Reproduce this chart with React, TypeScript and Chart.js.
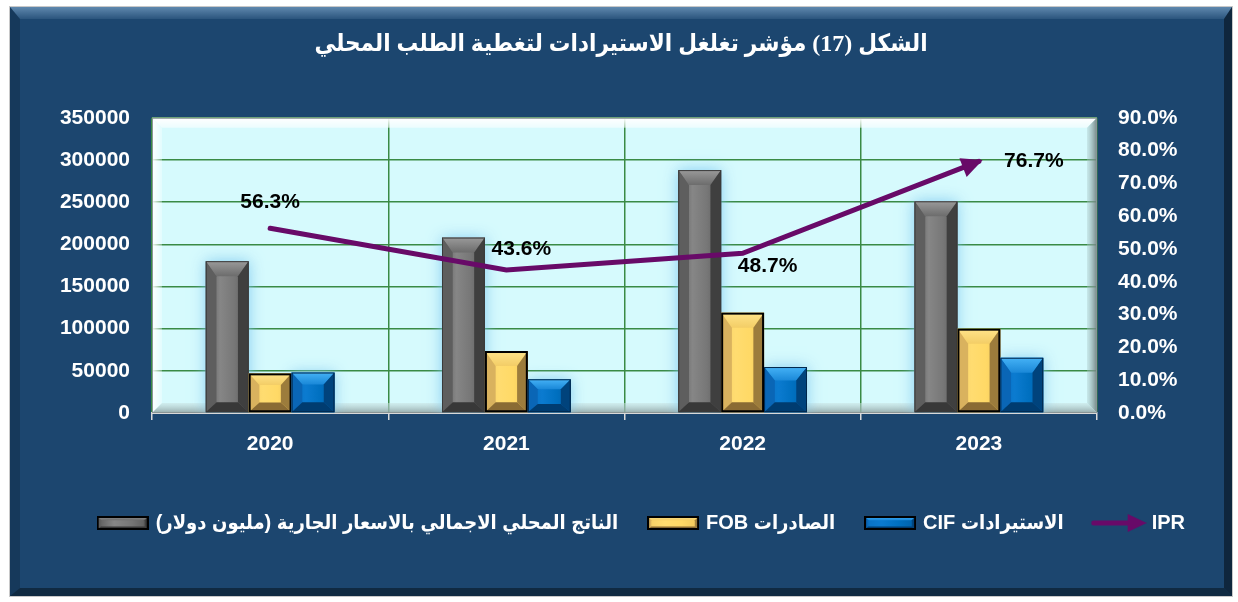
import React, { useEffect, useRef } from 'react';
import { Chart, registerables } from 'chart.js';

Chart.register(...registerables);

// ---------- data ----------
const years = ['2020', '2021', '2022', '2023'];
const gdpValues = [180000, 208000, 288000, 251000];
const fobValues = [47000, 73500, 119000, 100000];
const cifValues = [48000, 40000, 54500, 65500];
const iprValues = [56.3, 43.6, 48.7, 76.7];

const seriesNames = [
  'الناتج المحلي الاجمالي بالاسعار الجارية (مليون دولار)',
  'الصادرات FOB',
  'الاستيرادات CIF',
  'IPR',
];
const titleText = 'الشكل (17) مؤشر تغلغل الاستيرادات لتغطية الطلب المحلي';

const leftMax = 350000;
const leftStep = 50000;
const rightMax = 90;
const rightStep = 10;

// ---------- styles ----------
const FONT_SANS = "'Liberation Sans', Arial, 'DejaVu Sans Condensed', 'DejaVu Sans', sans-serif";
const FONT_TITLE = "'Liberation Serif', 'Times New Roman', 'DejaVu Sans Condensed', 'DejaVu Sans', serif";
const GRID_GREEN = '#3a8a45';
const LINE_PURPLE = '#680a68';

type Pal = {
  center: string[];
  left: string;
  right: string;
  top: string[];
  bottom: string;
  outline: string;
  outlineWidth: number;
  glow?: string;
};

const PALETTES: Pal[] = [
  {
    center: ['#5a5a5a', '#868686', '#777777', '#5a5a5a'],
    left: '#5e5e5e',
    right: '#3f3f3f',
    top: ['#9a9a9a', '#6c6c6c'],
    bottom: '#383838',
    outline: '#3a3a3a',
    outlineWidth: 1,
    glow: 'rgba(125,200,240,0.95)',
  },
  {
    center: ['#f6cf66', '#ffdc70', '#ffd966', '#efc65c'],
    left: '#d9b25e',
    right: '#9c7c3c',
    top: ['#ffe48a', '#f3cd66'],
    bottom: '#8a6b34',
    outline: '#000000',
    outlineWidth: 2,
  },
  {
    center: ['#0a70c2', '#0b7bd0', '#0070c0', '#0060a8'],
    left: '#0a66b6',
    right: '#00437c',
    top: ['#45b2f6', '#1a88d8'],
    bottom: '#003c70',
    outline: '#00264a',
    outlineWidth: 1,
    glow: 'rgba(125,200,240,0.95)',
  },
];

// label offset from its point, for each IPR label
const iprLabelOffsets = [
  [0, -26],
  [15, -21],
  [25, 13],
  [55, 0],
];

function poly(ctx: CanvasRenderingContext2D, pts: number[][], fill: any) {
  ctx.beginPath();
  ctx.moveTo(pts[0][0], pts[0][1]);
  for (let i = 1; i < pts.length; i++) ctx.lineTo(pts[i][0], pts[i][1]);
  ctx.closePath();
  ctx.fillStyle = fill;
  ctx.fill();
}

function drawBevel(ctx: CanvasRenderingContext2D, x0: number, y0: number, x1: number, y1: number, pal: Pal) {
  const w = x1 - x0;
  const h = y1 - y0;
  if (h <= 0 || w <= 0) return;
  const bs = Math.min(11, w * 0.25, h * 0.3);
  const bt = Math.min(15, h * 0.3);
  const bb = Math.min(10, h * 0.25);
  const g = ctx.createLinearGradient(x0, 0, x1, 0);
  pal.center.forEach((c, i) => g.addColorStop(i / (pal.center.length - 1), c));
  ctx.fillStyle = g;
  ctx.fillRect(x0, y0, w, h);
  const gt = ctx.createLinearGradient(0, y0, 0, y0 + bt);
  gt.addColorStop(0, pal.top[0]);
  gt.addColorStop(1, pal.top[1]);
  poly(ctx, [[x0, y0], [x1, y0], [x1 - bs, y0 + bt], [x0 + bs, y0 + bt]], gt);
  poly(ctx, [[x0, y0], [x0 + bs, y0 + bt], [x0 + bs, y1 - bb], [x0, y1]], pal.left);
  poly(ctx, [[x1, y0], [x1, y1], [x1 - bs, y1 - bb], [x1 - bs, y0 + bt]], pal.right);
  poly(ctx, [[x0, y1], [x1, y1], [x1 - bs, y1 - bb], [x0 + bs, y1 - bb]], pal.bottom);
  ctx.lineWidth = pal.outlineWidth;
  ctx.strokeStyle = pal.outline;
  const o = pal.outlineWidth / 2;
  ctx.strokeRect(x0 + o, y0 + o, w - 2 * o, h - 2 * o);
}

function makeSwatch(pal: Pal) {
  const c = document.createElement('canvas');
  c.width = 52;
  c.height = 14;
  const ctx = c.getContext('2d')!;
  drawBevel(ctx, 0, 0, 52, 14, { ...pal, outline: '#000000', outlineWidth: 2 });
  return c;
}

function makeArrow() {
  const c = document.createElement('canvas');
  c.width = 56;
  c.height = 18;
  const ctx = c.getContext('2d')!;
  ctx.strokeStyle = LINE_PURPLE;
  ctx.lineWidth = 5;
  ctx.lineCap = 'round';
  ctx.beginPath();
  ctx.moveTo(3, 9);
  ctx.lineTo(40, 9);
  ctx.stroke();
  poly(ctx, [[56, 9], [37, 0], [37, 18]], LINE_PURPLE);
  return c;
}

const LEGEND_PAD = 32;

const panelPlugin = {
  id: 'panelBg',
  afterLayout(chart: any) {
    // right-align the legend row so the IPR entry ends near the right axis labels
    if (chart.legend) chart.legend.right = chart.width - 25 + LEGEND_PAD - 22;
  },
  beforeDraw(chart: any) {
    const { ctx, width, height, chartArea } = chart;
    ctx.save();
    ctx.fillStyle = '#1c466f';
    ctx.fillRect(0, 0, width, height);
    const bt = 12, bl = 10, br = 8, bb = 8;
    const gt = ctx.createLinearGradient(0, 0, 0, bt);
    gt.addColorStop(0, 'rgba(150,190,225,0.55)');
    gt.addColorStop(1, 'rgba(150,190,225,0.12)');
    poly(ctx, [[0, 0], [width, 0], [width - br, bt], [bl, bt]], gt);
    poly(ctx, [[0, 0], [bl, bt], [bl, height - bb], [0, height]], 'rgba(0,0,0,0.18)');
    poly(ctx, [[width, 0], [width, height], [width - br, height - bb], [width - br, bt]], 'rgba(0,0,0,0.45)');
    poly(ctx, [[0, height], [width, height], [width - br, height - bb], [bl, height - bb]], 'rgba(0,0,0,0.4)');
    // plot wall
    const { left, top, right, bottom } = chartArea;
    ctx.fillStyle = '#d6fafd';
    ctx.fillRect(left, top, right - left, bottom - top);
    ctx.restore();
  },
  beforeDatasetsDraw(chart: any) {
    const { ctx, chartArea } = chart;
    const { left: L, top: T, right: R, bottom: B } = chartArea;
    const b = 10;
    ctx.save();
    const gt = ctx.createLinearGradient(0, T, 0, T + b + 4);
    gt.addColorStop(0, 'rgba(255,255,255,1)');
    gt.addColorStop(1, 'rgba(255,255,255,0.35)');
    poly(ctx, [[L, T], [R, T], [R - b, T + b], [L + b, T + b]], gt);
    const gl = ctx.createLinearGradient(L, 0, L + b, 0);
    gl.addColorStop(0, 'rgba(255,255,255,0.95)');
    gl.addColorStop(1, 'rgba(255,255,255,0.3)');
    poly(ctx, [[L, T], [L + b, T + b], [L + b, B - b], [L, B]], gl);
    const gr = ctx.createLinearGradient(R - b, 0, R, 0);
    gr.addColorStop(0, 'rgba(170,200,200,0.35)');
    gr.addColorStop(1, 'rgba(110,125,125,0.95)');
    poly(ctx, [[R, T], [R, B], [R - b, B - b], [R - b, T + b]], gr);
    const gb = ctx.createLinearGradient(0, B - b, 0, B);
    gb.addColorStop(0, 'rgba(200,225,225,0.5)');
    gb.addColorStop(1, 'rgba(140,160,160,0.9)');
    poly(ctx, [[L, B], [R, B], [R - b, B - b], [L + b, B - b]], gb);
    ctx.strokeStyle = '#8a9595';
    ctx.lineWidth = 1;
    ctx.strokeRect(L + 0.5, T + 0.5, R - L - 1, B - T - 1);
    ctx.restore();
  },
  beforeDatasetDraw(chart: any, args: any) {
    // draw all bevelled bars just before the line
    if (chart.data.datasets[args.index].type !== 'line') return;
    const { ctx, chartArea } = chart;
    const bars: { x0: number; y0: number; x1: number; y1: number; pal: Pal }[] = [];
    chart.data.datasets.forEach((ds: any, di: number) => {
      if (ds.type !== 'bar') return;
      const meta = chart.getDatasetMeta(di);
      meta.data.forEach((el: any) => {
        const p = el.getProps(['x', 'y', 'base', 'width'], true);
        bars.push({ x0: p.x - p.width / 2, x1: p.x + p.width / 2, y0: Math.min(p.y, p.base), y1: Math.max(p.y, p.base), pal: PALETTES[di] });
      });
    });
    ctx.save();
    ctx.beginPath();
    ctx.rect(chartArea.left, chartArea.top, chartArea.right - chartArea.left, chartArea.bottom - chartArea.top);
    ctx.clip();
    bars.forEach((b) => {
      if (!b.pal.glow) return;
      ctx.save();
      ctx.shadowColor = b.pal.glow;
      ctx.shadowBlur = 14;
      ctx.fillStyle = b.pal.glow;
      ctx.fillRect(b.x0, b.y0, b.x1 - b.x0, b.y1 - b.y0);
      ctx.restore();
    });
    bars.forEach((b) => drawBevel(ctx, b.x0, b.y0, b.x1, b.y1, b.pal));
    ctx.restore();
  },
  afterDatasetsDraw(chart: any) {
    const { ctx } = chart;
    const idx = chart.data.datasets.findIndex((d: any) => d.type === 'line');
    const meta = chart.getDatasetMeta(idx);
    const pts = meta.data;
    ctx.save();
    // arrow head
    const a = pts[pts.length - 2];
    const z = pts[pts.length - 1];
    const ang = Math.atan2(z.y - a.y, z.x - a.x);
    const tipX = z.x + Math.cos(ang) * 4;
    const tipY = z.y + Math.sin(ang) * 4;
    const len = 21, hw = 10;
    const bx = tipX - Math.cos(ang) * len;
    const by = tipY - Math.sin(ang) * len;
    poly(ctx, [
      [tipX, tipY],
      [bx + Math.sin(ang) * hw, by - Math.cos(ang) * hw],
      [bx - Math.sin(ang) * hw, by + Math.cos(ang) * hw],
    ], LINE_PURPLE);
    // labels
    ctx.fillStyle = '#000000';
    ctx.font = `bold 21px ${FONT_SANS}`;
    ctx.textAlign = 'center';
    ctx.textBaseline = 'middle';
    pts.forEach((p: any, i: number) => {
      const v = chart.data.datasets[idx].data[i];
      const off = iprLabelOffsets[i];
      ctx.fillText(`${Number(v).toFixed(1)}%`, p.x + off[0], p.y + off[1]);
    });
    ctx.restore();
  },
};

export default function App() {
  const canvasRef = useRef<HTMLCanvasElement | null>(null);

  useEffect(() => {
    if (!canvasRef.current) return;
    const swatches = [makeSwatch(PALETTES[0]), makeSwatch(PALETTES[1]), makeSwatch(PALETTES[2]), makeArrow()];
    const tickFont = { family: FONT_SANS, size: 21, weight: 'bold' as const };
    const chart = new Chart(canvasRef.current, {
      type: 'bar',
      data: {
        labels: years,
        datasets: [
          { type: 'bar', label: seriesNames[0], data: gdpValues, backgroundColor: 'rgba(0,0,0,0)', borderWidth: 0, yAxisID: 'y', order: 0 },
          { type: 'bar', label: seriesNames[1], data: fobValues, backgroundColor: 'rgba(0,0,0,0)', borderWidth: 0, yAxisID: 'y', order: 0 },
          { type: 'bar', label: seriesNames[2], data: cifValues, backgroundColor: 'rgba(0,0,0,0)', borderWidth: 0, yAxisID: 'y', order: 0 },
          {
            type: 'line', label: seriesNames[3], data: iprValues, yAxisID: 'y1', order: -1,
            borderColor: LINE_PURPLE, backgroundColor: LINE_PURPLE, borderWidth: 5, pointRadius: 0,
            tension: 0, borderCapStyle: 'round', fill: false,
          },
        ] as any,
      },
      options: {
        animation: false,
        responsive: true,
        maintainAspectRatio: false,
        layout: { padding: { top: 0, left: 0, right: 0, bottom: 53 } },
        datasets: { bar: { categoryPercentage: 0.545, barPercentage: 1 } },
        scales: {
          x: {
            offset: true,
            grid: { offset: true, color: GRID_GREEN, lineWidth: 1.5, tickColor: '#d9d9d9', tickLength: 7, drawTicks: true },
            border: { color: '#d9d9d9', width: 2 },
            ticks: { color: '#ffffff', font: tickFont, padding: 12 },
            afterFit: (s: any) => { s.height = 68; },
          },
          y: {
            position: 'left', min: 0, max: leftMax,
            ticks: { stepSize: leftStep, color: '#ffffff', font: tickFont, padding: 22, callback: (v: any) => String(v) },
            grid: { color: GRID_GREEN, lineWidth: 1.5, drawTicks: false },
            border: { display: false },
            afterFit: (s: any) => { s.width = 142; },
          },
          y1: {
            position: 'right', min: 0, max: rightMax,
            ticks: { stepSize: rightStep, color: '#ffffff', font: tickFont, padding: 21, callback: (v: any) => `${Number(v).toFixed(1)}%` },
            grid: { drawOnChartArea: false, drawTicks: false },
            border: { display: false },
            afterFit: (s: any) => { s.width = 135; },
          },
        } as any,
        plugins: {
          title: {
            display: true,
            text: titleText,
            color: '#ffffff',
            font: { family: FONT_TITLE, size: 24, weight: 'bold' },
            padding: { top: 23, bottom: 59 },
          },
          legend: {
            position: 'bottom',
            align: 'end',
            labels: {
              usePointStyle: true,
              pointStyleWidth: 46,
              padding: LEGEND_PAD,
              color: '#ffffff',
              font: { family: FONT_SANS, size: 20, weight: 'bold' },
              sort: (a: any, b: any) => a.datasetIndex - b.datasetIndex,
              generateLabels: (ch: any) => {
                const base = (Chart.defaults.plugins.legend.labels as any).generateLabels(ch);
                return base.map((l: any) => ({ ...l, pointStyle: swatches[l.datasetIndex], fontColor: '#ffffff' }));
              },
            },
          },
          tooltip: { enabled: false },
        },
      } as any,
      plugins: [panelPlugin],
    });
    return () => chart.destroy();
  }, []);

  return (
    <div
      style={{
        position: 'absolute', left: 10, top: 7, width: 1222, height: 589,
        outline: '1px solid #c8c8c8',
      }}
    >
      <canvas ref={canvasRef} dir="rtl" style={{ display: 'block' }} />
    </div>
  );
}
